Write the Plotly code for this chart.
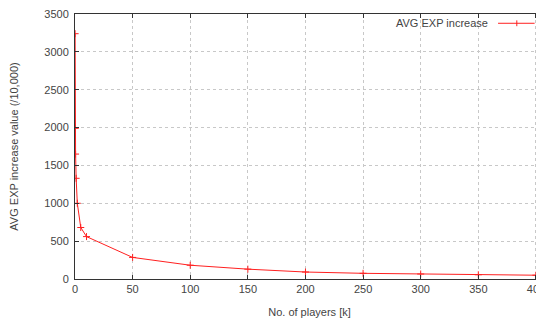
import plotly.graph_objects as go

players_k = [0.1, 0.2, 0.5, 1, 2, 5, 10, 50, 100, 150, 200, 250, 300, 350, 400]
avg_exp_increase = [3240, 1990, 1650, 1330, 1000, 680, 560, 285, 182, 130, 92, 75, 66, 56, 50]

x_ticks = [0, 50, 100, 150, 200, 250, 300, 350, 400]
y_ticks = [0, 500, 1000, 1500, 2000, 2500, 3000, 3500]

series_name = "AVG EXP increase"
x_title = "No. of players [k]"
y_title = "AVG EXP increase value (/10,000)"

RED = "#ff2020"
TXT = "#444444"
font_family = "Liberation Sans, Arial, sans-serif"

fig = go.Figure()
fig.add_trace(go.Scatter(
    x=players_k, y=avg_exp_increase, mode="lines+markers", name=series_name,
    line=dict(color=RED, width=1),
    marker=dict(symbol="cross-thin", size=5, line=dict(color=RED, width=1), color=RED),
    showlegend=False,
))

axis_common = dict(
    showline=True, linecolor="#333333", linewidth=1, mirror="ticks",
    ticks="inside", ticklen=4, tickcolor="#333333",
    showgrid=True, gridcolor="#c8c8c8", griddash="dot", gridwidth=1,
    zeroline=False, automargin=False, ticklabeloverflow="allow",
    tickfont=dict(family=font_family, size=11, color=TXT),
)

fig.update_layout(
    width=536, height=315,
    margin=dict(l=67, r=0, t=6, b=44, autoexpand=False),
    paper_bgcolor="white", plot_bgcolor="white",
    font=dict(family=font_family, size=11, color=TXT),
    xaxis=dict(range=[0, 407], tickvals=x_ticks,
               title=dict(text=x_title, font=dict(size=11, color=TXT), standoff=14),
               **axis_common),
    yaxis=dict(range=[0, 3500], tickvals=y_ticks, ticklabelstandoff=3,
               title=dict(text=y_title, font=dict(size=11, color=TXT), standoff=25),
               **axis_common),
)

# gnuplot-style key: text on the left, sample on the right
fig.add_annotation(xref="paper", yref="paper", x=0.885, y=0.965, xanchor="right", yanchor="middle",
                   text=series_name, showarrow=False, font=dict(size=11, color=TXT, family=font_family))
fig.add_shape(type="line", xref="paper", yref="paper", x0=0.902, x1=0.98, y0=0.965, y1=0.965,
              line=dict(color=RED, width=1))
fig.add_shape(type="line", xref="paper", yref="paper", x0=0.942, x1=0.942, y0=0.954, y1=0.976,
              line=dict(color=RED, width=1))

fig.write_html("out.html")
